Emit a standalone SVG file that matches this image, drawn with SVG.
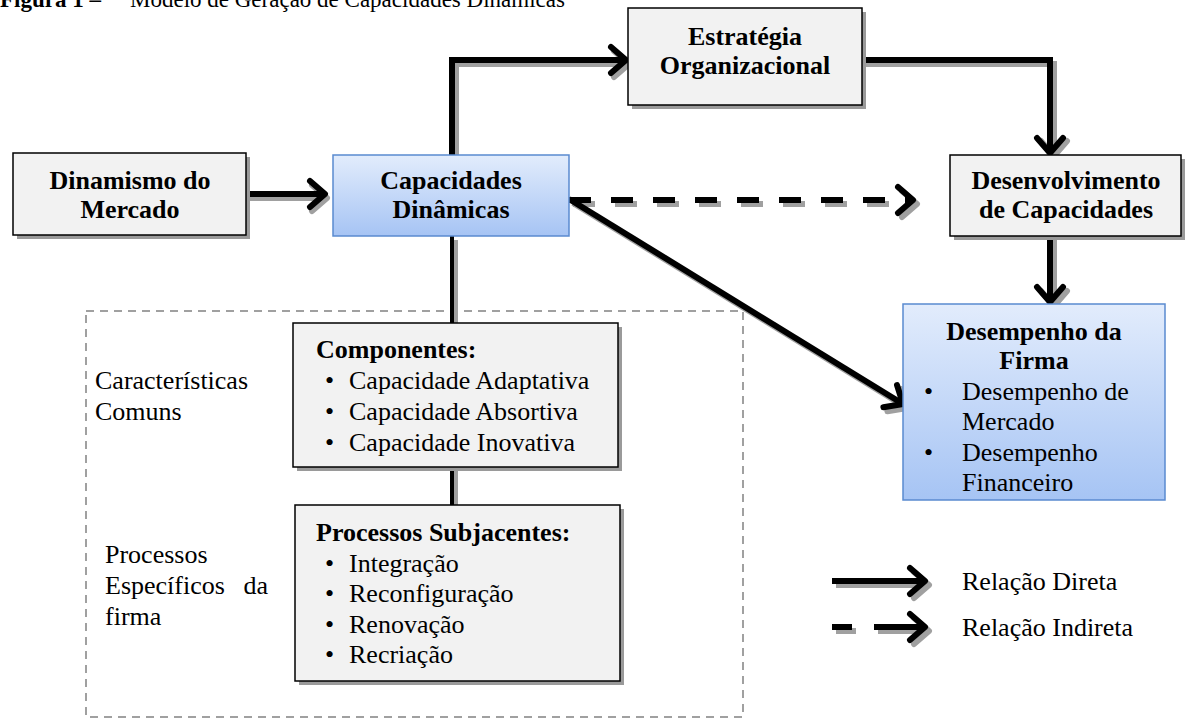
<svg xmlns="http://www.w3.org/2000/svg" width="1187" height="722" viewBox="0 0 1187 722">
<style>
.t{font-family:"Liberation Serif","Times New Roman",serif;fill:#000}
.b{font-weight:bold;font-size:26px}
.r{font-size:26px}
.box{fill:#f2f2f2;stroke:#000;stroke-width:1.5}
.blue{stroke:#5a8ad0;stroke-width:1.5}
.bsh{fill:#9a9a9a}
.c{fill:none;stroke:#000;stroke-width:6}
.cs{fill:none;stroke:#a0a0a0;stroke-width:6}
.thin{fill:none;stroke:#000;stroke-width:4}
.thins{fill:none;stroke:#a0a0a0;stroke-width:4}
.dash{stroke-dasharray:22 20}
</style>
<defs>
<linearGradient id="bg" x1="0" y1="0" x2="0" y2="1">
<stop offset="0" stop-color="#e2ecfc"/>
<stop offset="1" stop-color="#a6c4f4"/>
</linearGradient>
<marker id="ah" viewBox="0 0 20 32" refX="17" refY="16" markerWidth="20" markerHeight="32" markerUnits="userSpaceOnUse" orient="auto" overflow="visible">
<path d="M2,3 L17,16 L2,29" fill="none" stroke="#000" stroke-width="6" stroke-linecap="round" stroke-linejoin="round"/>
</marker>
<marker id="ahs" viewBox="0 0 20 32" refX="17" refY="16" markerWidth="20" markerHeight="32" markerUnits="userSpaceOnUse" orient="auto" overflow="visible">
<path d="M2,3 L17,16 L2,29" fill="none" stroke="#a0a0a0" stroke-width="6" stroke-linecap="round" stroke-linejoin="round"/>
</marker>
</defs>
<rect width="1187" height="722" fill="#fff"/>
<text class="t" x="0" y="7" font-size="23"><tspan font-weight="bold">Figura 1 –</tspan><tspan x="130">Modelo de Geração de Capacidades Dinâmicas</tspan></text>

<g id="container">
<rect x="86" y="311" width="657" height="406" fill="none" stroke="#a0a0a0" stroke-width="2" stroke-dasharray="8 6"/>
</g>

<g id="connectors">
<!-- shadows -->
<path class="cs" d="M250,198 L327,198" marker-end="url(#ahs)"/>
<path class="cs" d="M456,156 L456,64 L629,64" marker-end="url(#ahs)"/>
<path class="cs" d="M866,64 L1054,64 L1054,156" marker-end="url(#ahs)"/>
<path class="cs dash" d="M573,204 L917,204" marker-end="url(#ahs)"/>
<path class="cs" d="M573,203 L907,408" marker-end="url(#ahs)"/>
<path class="cs" d="M1054,240 L1054,306" marker-end="url(#ahs)"/>
<path class="thins" d="M456,240 L456,323 M456,470 L456,505"/>
<!-- lines -->
<path class="c" d="M246,194 L325,194" marker-end="url(#ah)"/>
<path class="c" d="M452,155 L452,60 L626,60" marker-end="url(#ah)"/>
<path class="c" d="M862,60 L1050,60 L1050,153" marker-end="url(#ah)"/>
<path class="c dash" d="M569,200 L913,200" marker-end="url(#ah)"/>
<path class="c" d="M569,199 L903,404" marker-end="url(#ah)"/>
<path class="c" d="M1050,236 L1050,302" marker-end="url(#ah)"/>
<path class="thin" d="M452,236 L452,323 M452,469 L452,505"/>
</g>

<g id="dinamismo">
<rect class="bsh" x="17" y="157" width="233" height="82"/>
<rect class="box" x="13" y="153" width="233" height="82"/>
<text class="t b" x="130" y="189" text-anchor="middle">Dinamismo do</text>
<text class="t b" x="130" y="218" text-anchor="middle">Mercado</text>
</g>

<g id="capacidades">
<rect class="blue" x="333" y="155" width="236" height="81" fill="url(#bg)"/>
<text class="t b" x="451" y="189" text-anchor="middle">Capacidades</text>
<text class="t b" x="451" y="218" text-anchor="middle">Dinâmicas</text>
</g>

<g id="estrategia">
<rect class="bsh" x="632" y="12" width="234" height="97"/>
<rect class="box" x="628" y="8" width="234" height="97"/>
<text class="t b" x="745" y="45" text-anchor="middle">Estratégia</text>
<text class="t b" x="745" y="74" text-anchor="middle">Organizacional</text>
</g>

<g id="desenvolvimento">
<rect class="bsh" x="954" y="159" width="231" height="81"/>
<rect class="box" x="950" y="155" width="231" height="81"/>
<text class="t b" x="1066" y="189" text-anchor="middle">Desenvolvimento</text>
<text class="t b" x="1066" y="218" text-anchor="middle">de Capacidades</text>
</g>

<g id="desempenho">
<rect class="blue" x="903" y="304" width="262" height="196" fill="url(#bg)"/>
<text class="t b" x="1034" y="340" text-anchor="middle">Desempenho da</text>
<text class="t b" x="1034" y="369" text-anchor="middle">Firma</text>
<text class="t r" x="924" y="400">•</text>
<text class="t r" x="962" y="400">Desempenho de</text>
<text class="t r" x="962" y="430">Mercado</text>
<text class="t r" x="924" y="461">•</text>
<text class="t r" x="962" y="461">Desempenho</text>
<text class="t r" x="962" y="491">Financeiro</text>
</g>

<g id="componentes">
<rect class="bsh" x="297" y="327" width="325" height="144"/>
<rect class="box" x="293" y="323" width="325" height="144"/>
<text class="t b" x="316" y="358">Componentes:</text>
<text class="t r" x="325" y="389">•</text><text class="t r" x="349" y="389">Capacidade Adaptativa</text>
<text class="t r" x="325" y="420">•</text><text class="t r" x="349" y="420">Capacidade Absortiva</text>
<text class="t r" x="325" y="451">•</text><text class="t r" x="349" y="451">Capacidade Inovativa</text>
</g>

<g id="processos">
<rect class="bsh" x="299" y="509" width="325" height="176"/>
<rect class="box" x="295" y="505" width="325" height="176"/>
<text class="t b" x="316" y="541">Processos Subjacentes:</text>
<text class="t r" x="325" y="572">•</text><text class="t r" x="349" y="572">Integração</text>
<text class="t r" x="325" y="602">•</text><text class="t r" x="349" y="602">Reconfiguração</text>
<text class="t r" x="325" y="633">•</text><text class="t r" x="349" y="633">Renovação</text>
<text class="t r" x="325" y="663">•</text><text class="t r" x="349" y="663">Recriação</text>
</g>

<g id="labels">
<text class="t r" x="95" y="389">Características</text>
<text class="t r" x="95" y="420">Comuns</text>
<text class="t r" x="105" y="563">Processos</text>
<text class="t r" x="105" y="594">Específicos</text>
<text class="t r" x="268" y="594" text-anchor="end">da</text>
<text class="t r" x="105" y="625">firma</text>
</g>

<g id="legend">
<path class="cs" d="M836,585 L929,585" marker-end="url(#ahs)"/>
<path class="c" d="M832,581 L925,581" marker-end="url(#ah)"/>
<path class="cs" d="M836,631 L856,631 M878,631 L929,631" marker-end="url(#ahs)"/>
<path class="c" d="M832,627 L852,627 M874,627 L925,627" marker-end="url(#ah)"/>
<text class="t r" x="962" y="590">Relação Direta</text>
<text class="t r" x="962" y="636">Relação Indireta</text>
</g>
</svg>
